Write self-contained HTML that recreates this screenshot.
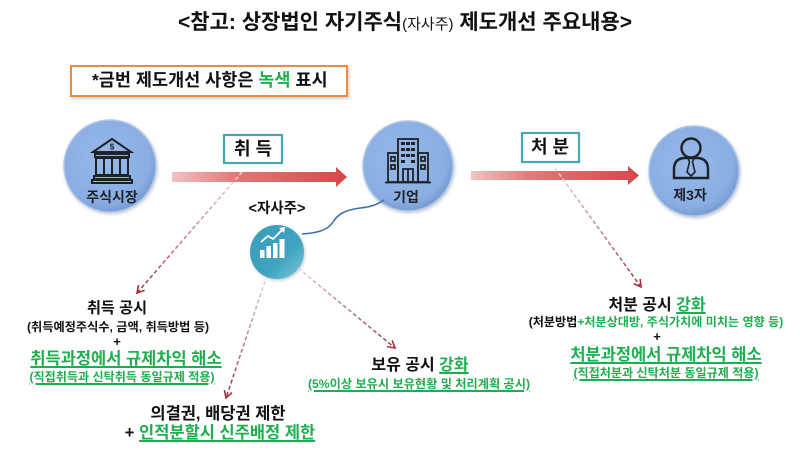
<!DOCTYPE html>
<html><head><meta charset="utf-8">
<style>
html,body{margin:0;padding:0;background:#fff;}
body{width:800px;height:454px;position:relative;overflow:hidden;font-family:"Liberation Sans","Noto Sans CJK KR",sans-serif;}
svg{position:absolute;left:0;top:0;}
.t{position:absolute;white-space:nowrap;text-align:center;font-weight:bold;color:#111;width:400px;}
.g{color:#1fae4f;}
.u{text-decoration:underline;text-decoration-thickness:1.5px;text-underline-offset:2px;}
</style></head><body>
<svg width="800" height="454" viewBox="0 0 800 454">
<defs>
<radialGradient id="cb" cx="0.45" cy="0.42" r="0.6">
<stop offset="0" stop-color="#97b8e8"/><stop offset="0.8" stop-color="#8aaee2"/><stop offset="1" stop-color="#7398d0"/>
</radialGradient>
<linearGradient id="tl" x1="0" y1="0" x2="1" y2="1">
<stop offset="0" stop-color="#3b9cb8"/><stop offset="0.6" stop-color="#3fa3bf"/><stop offset="1" stop-color="#7cc8d8"/>
</linearGradient>
<linearGradient id="ra" x1="0" x2="1" y1="0" y2="0">
<stop offset="0" stop-color="#f2c2c2"/><stop offset="0.35" stop-color="#e27a7a"/><stop offset="1" stop-color="#d64747"/>
</linearGradient>
<linearGradient id="d1" gradientUnits="userSpaceOnUse" x1="242" y1="172" x2="137" y2="293"><stop offset="0" stop-color="#f1d6dc"/><stop offset="1" stop-color="#a3303c"/></linearGradient>
<linearGradient id="d2" gradientUnits="userSpaceOnUse" x1="265" y1="281" x2="226" y2="398"><stop offset="0" stop-color="#d9d3d6"/><stop offset="1" stop-color="#a3303c"/></linearGradient>
<linearGradient id="d3" gradientUnits="userSpaceOnUse" x1="298" y1="268" x2="395" y2="348"><stop offset="0" stop-color="#d9d3d6"/><stop offset="1" stop-color="#a3303c"/></linearGradient>
<linearGradient id="d4" gradientUnits="userSpaceOnUse" x1="555" y1="168" x2="641" y2="287"><stop offset="0" stop-color="#e6d6dc"/><stop offset="1" stop-color="#a3303c"/></linearGradient>
<marker id="ah" markerWidth="10" markerHeight="10" refX="8" refY="5" orient="auto" markerUnits="userSpaceOnUse">
<path d="M1,1 L8,5 L1,9" fill="none" stroke="#a3303c" stroke-width="1.6"/>
</marker>
<filter id="sh" x="-20%" y="-20%" width="140%" height="140%"><feDropShadow dx="1" dy="1.5" stdDeviation="1.5" flood-color="#7a8aa0" flood-opacity="0.45"/></filter>
</defs>

<rect x="71" y="66" width="276" height="30" fill="#fff" stroke="#ef8a3a" stroke-width="2" filter="url(#sh)"/>

<path d="M172,172 L336,172 L336,167 L347,177 L336,187 L336,182 L172,182 Z" fill="url(#ra)"/>
<path d="M471,171 L628,171 L628,166 L639,175.5 L628,185 L628,180 L471,180 Z" fill="url(#ra)"/>

<rect x="224" y="135" width="58" height="28" fill="#fff" stroke="#45a7b4" stroke-width="2.2"/>
<rect x="522" y="133" width="57" height="29" fill="#fff" stroke="#45a7b4" stroke-width="2.2"/>

<circle cx="110" cy="166" r="46" fill="url(#cb)" stroke="#b0c6e6" stroke-width="1.5" filter="url(#sh)"/>
<circle cx="408" cy="166" r="45" fill="url(#cb)" stroke="#b0c6e6" stroke-width="1.5" filter="url(#sh)"/>
<circle cx="694" cy="171" r="45" fill="url(#cb)" stroke="#b0c6e6" stroke-width="1.5" filter="url(#sh)"/>

<path d="M302,234 C318,233 328,230 333,222 C338,214 345,210 360,208 C370,207 377,205 384,200" fill="none" stroke="#3f6fb3" stroke-width="1.6"/>

<circle cx="277" cy="252" r="27" fill="url(#tl)" filter="url(#sh)"/>
<g fill="#fff">
<rect x="260" y="250" width="4.5" height="8"/>
<rect x="266.5" y="246" width="4.5" height="12"/>
<rect x="273" y="243" width="4.5" height="15"/>
<rect x="279.5" y="239" width="5" height="19"/>
</g>
<path d="M261,242 L268,236 L273,239 L283,229" fill="none" stroke="#fff" stroke-width="1.8"/>
<path d="M279,228 L285,227 L284,233 Z" fill="#fff"/>

<g fill="none" stroke="#1e2228" stroke-width="2">
<path d="M93,152 L112,139 L131,152 Z"/>
<rect x="95" y="154" width="34" height="3"/>
<rect x="96" y="158" width="32" height="17"/>
<line x1="104" y1="158" x2="104" y2="175"/>
<line x1="112" y1="158" x2="112" y2="175"/>
<line x1="120" y1="158" x2="120" y2="175"/>
<rect x="94" y="176" width="36" height="3"/>
<rect x="92" y="180" width="40" height="3"/>
</g>
<text x="112" y="149.5" font-size="8" font-weight="bold" text-anchor="middle" fill="#1e2228" font-family="Liberation Sans,sans-serif">$</text>

<g fill="none" stroke="#1e2228" stroke-width="1.8">
<rect x="398" y="139" width="20" height="43"/>
<rect x="388" y="153" width="10" height="29"/>
<rect x="418" y="153" width="10" height="29"/>
<line x1="385" y1="182.5" x2="431" y2="182.5"/>
<rect x="403" y="169" width="10" height="13"/>
<line x1="408" y1="169" x2="408" y2="182"/>
<rect x="391" y="157" width="4" height="4"/>
<rect x="391" y="165" width="4" height="4"/>
<rect x="421" y="157" width="4" height="4"/>
<rect x="421" y="165" width="4" height="4"/>
</g>
<g fill="#1e2228">
<rect x="401" y="142" width="4" height="3"/><rect x="406" y="142" width="4" height="3"/><rect x="411" y="142" width="4" height="3"/>
<rect x="401" y="148" width="4" height="3"/><rect x="406" y="148" width="4" height="3"/><rect x="411" y="148" width="4" height="3"/>
<rect x="401" y="154" width="4" height="3"/><rect x="406" y="154" width="4" height="3"/><rect x="411" y="154" width="4" height="3"/>
<rect x="401" y="160" width="4" height="3"/><rect x="411" y="160" width="4" height="3"/>
</g>

<g fill="none" stroke="#1e2228" stroke-width="2.4">
<circle cx="691" cy="148" r="9.5"/>
<path d="M674,178 L674,169 Q674,159 684,158 L698,158 Q708,159 708,169 L708,178 Z"/>
</g>
<path d="M688,158 L694,158 L692.5,162 L695,172 L691,176 L687,172 L689.5,162 Z" fill="none" stroke="#1e2228" stroke-width="1.6"/>

<line x1="242" y1="172" x2="137" y2="293" stroke="url(#d1)" stroke-width="1.5" stroke-dasharray="4 2.5" marker-end="url(#ah)"/>
<line x1="265" y1="281" x2="226" y2="398" stroke="url(#d2)" stroke-width="1.5" stroke-dasharray="4 2.5" marker-end="url(#ah)"/>
<line x1="298" y1="268" x2="395" y2="348" stroke="url(#d3)" stroke-width="1.5" stroke-dasharray="4 2.5" marker-end="url(#ah)"/>
<line x1="555" y1="168" x2="641" y2="287" stroke="url(#d4)" stroke-width="1.5" stroke-dasharray="4 2.5" marker-end="url(#ah)"/>

<g font-family="Liberation Sans, Noto Sans CJK KR, sans-serif" font-weight="bold" font-size="14" fill="#1e2228" text-anchor="middle">
<text x="112" y="202">주식시장</text>
<text x="406" y="202">기업</text>
<text x="690" y="200">제3자</text>
</g>
</svg>

<div class="t" style="left:5px;width:800px;top:10px;line-height:26px;font-size:21px;">&lt;참고: 상장법인 자기주식<span style="font-size:15px;font-weight:normal;">(자사주)</span> 제도개선 주요내용&gt;</div>

<div class="t" style="left:92px;top:69px;width:auto;text-align:left;line-height:22px;font-size:17.5px;">*금번 제도개선 사항은 <span class="g">녹색</span> 표시</div>

<div class="t" style="left:53px;top:138px;line-height:22px;font-size:18px;">취 득</div>
<div class="t" style="left:350px;top:136px;line-height:22px;font-size:18px;">처 분</div>
<div class="t" style="left:77px;top:200px;line-height:18px;font-size:14.5px;">&lt;자사주&gt;</div>

<div class="t" style="left:-83px;top:299px;line-height:20px;font-size:15.2px;">취득 공시</div>
<div class="t" style="left:-82px;top:318px;line-height:18px;font-size:12.2px;">(취득예정주식수, 금액, 취득방법 등)</div>
<div class="t" style="left:-83px;top:333px;line-height:18px;font-size:13px;">+</div>
<div class="t g u" style="left:-74px;top:349px;line-height:20px;font-size:16.5px;">취득과정에서 규제차익 해소</div>
<div class="t g u" style="left:-78px;top:368px;line-height:18px;font-size:12.1px;">(직접취득과 신탁취득 동일규제 적용)</div>

<div class="t" style="left:18px;top:404px;line-height:20px;font-size:16.5px;">의결권, 배당권 제한</div>
<div class="t" style="left:20px;top:423px;line-height:20px;font-size:16.5px;">+ <span class="g u">인적분할시 신주배정 제한</span></div>

<div class="t" style="left:220px;top:356px;line-height:20px;font-size:16px;">보유 공시 <span class="g u">강화</span></div>
<div class="t g u" style="left:219px;top:375px;line-height:18px;font-size:12.2px;">(5%이상 보유시 보유현황 및 처리계획 공시)</div>

<div class="t" style="left:457px;top:296px;line-height:20px;font-size:16px;">처분 공시 <span class="g u">강화</span></div>
<div class="t" style="left:456px;top:313px;line-height:18px;font-size:12.1px;">(처분방법<span class="g">+처분상대방, 주식가치에 미치는 영향 등)</span></div>
<div class="t" style="left:457px;top:328px;line-height:18px;font-size:13px;">+</div>
<div class="t g u" style="left:466px;top:345px;line-height:20px;font-size:16.5px;">처분과정에서 규제차익 해소</div>
<div class="t g u" style="left:466px;top:364px;line-height:18px;font-size:12.1px;">(직접처분과 신탁처분 동일규제 적용)</div>
</body></html>
